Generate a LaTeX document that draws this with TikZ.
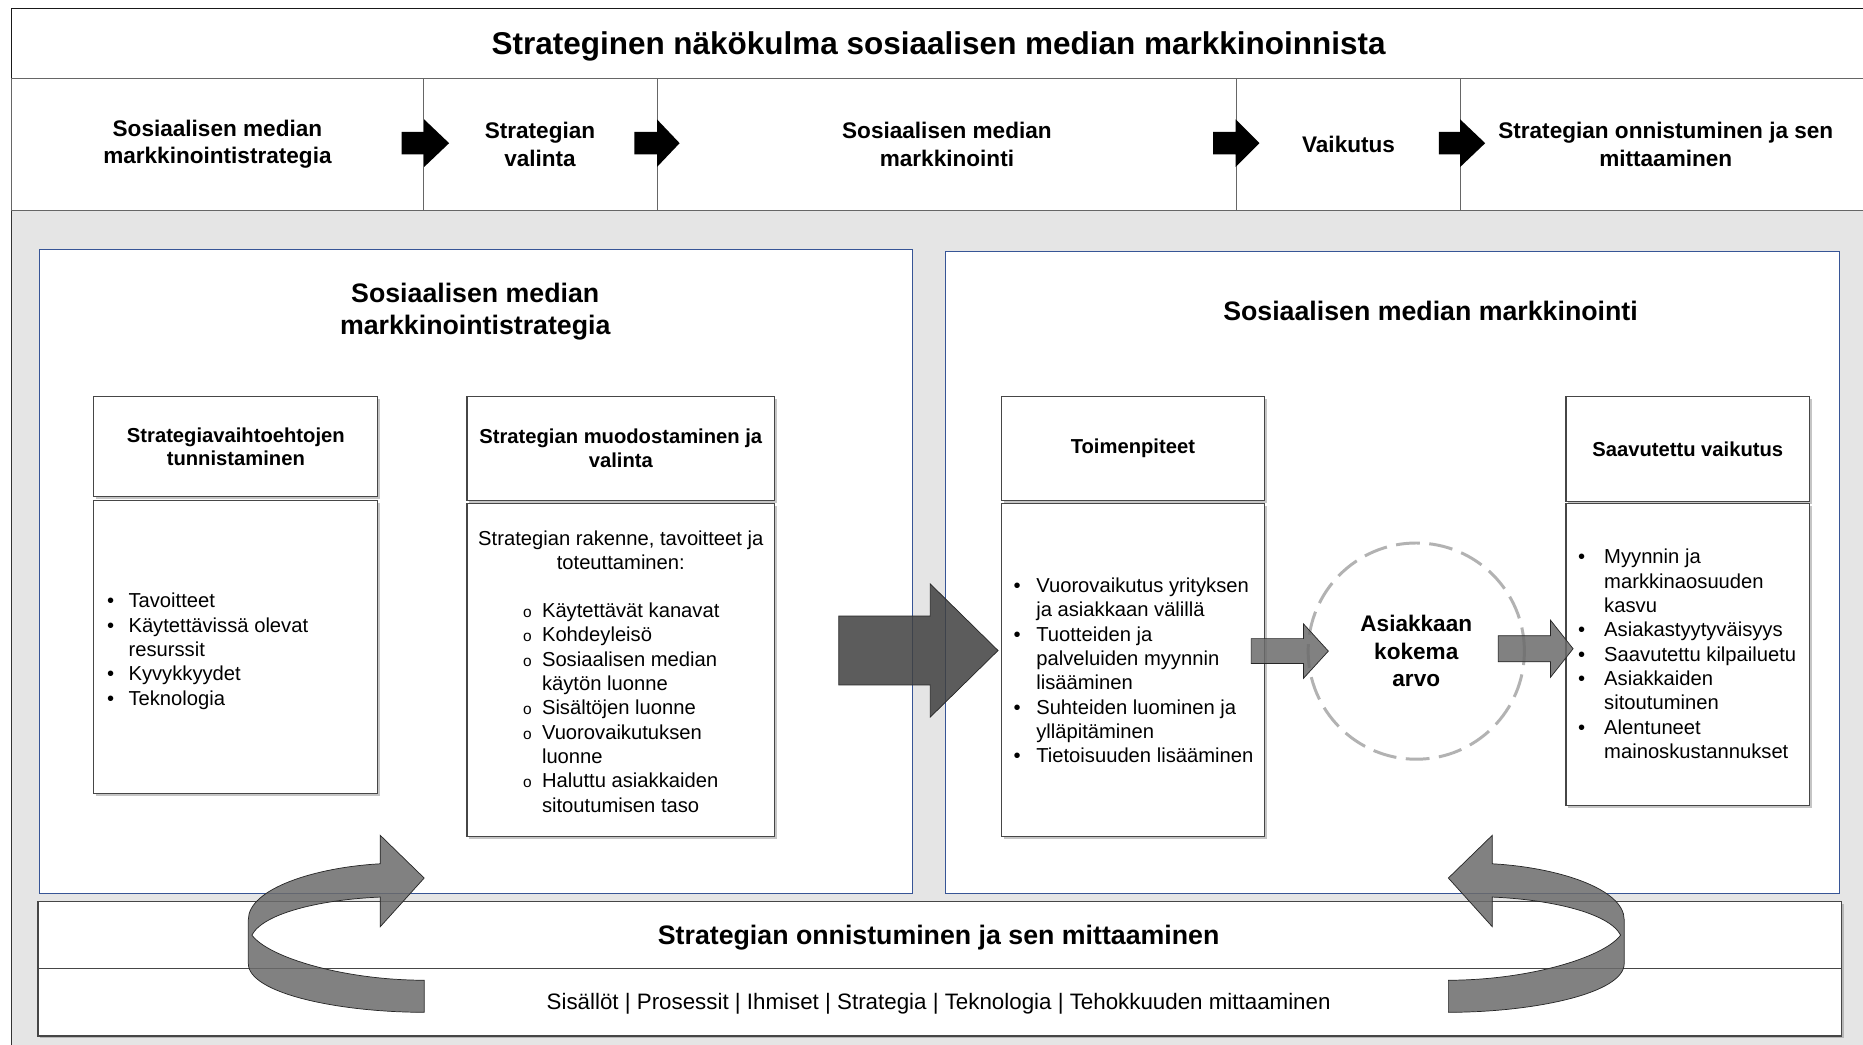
\documentclass[tikz,border=0pt]{standalone}
\usepackage{fontspec}
\setmainfont{Liberation Sans}
\usetikzlibrary{shadows}

\definecolor{panelblue}{RGB}{55,85,150}
\definecolor{boxgray}{RGB}{70,70,70}

% filled block arrow: [style]{shaft start}{centre y}{head base}{tip}{shaft half}{head half}
\newcommand{\blockarrow}[7][]{%
  \draw[#1] (#2,#3-#6) -- (#4,#3-#6) -- (#4,#3-#7) -- (#5,#3)
    -- (#4,#3+#7) -- (#4,#3+#6) -- (#2,#3+#6) -- cycle;}
\newcommand{\lbul}[1]{\makebox[#1][l]{\textbullet}}
\newcommand{\obul}{\makebox[16pt][l]{\fontsize{13}{13}\selectfont o}}

\begin{document}
\begin{tikzpicture}[
    x=1pt, y=-1pt,
    every node/.style={inner sep=0pt},
    stepbox/.style={draw=black!60, line width=0.8pt, fill=white, minimum height=111,
      align=center, font=\fontsize{19}{23}\selectfont\bfseries},
    panel/.style={draw=panelblue, line width=0.8pt, fill=white},
    paneltitle/.style={align=center, font=\fontsize{22.5}{27}\selectfont\bfseries},
    headbox/.style={draw=boxgray, line width=1pt, fill=white, align=center,
      font=\fontsize{17}{20}\selectfont\bfseries,
      drop shadow={shadow xshift=2pt, shadow yshift=-2pt, opacity=0.45}},
    bodybox/.style={headbox, font=\fontsize{17}{20.5}\selectfont},
    listtext/.style={anchor=north west, align=left, font=\fontsize{17}{20.5}\selectfont},
    rowarrow/.style={fill=black, draw=none},
    bigarrow/.style={fill=black!75, fill opacity=0.85, draw=black!85, line width=0.6pt},
    midarrow/.style={fill=black!58, fill opacity=0.85, draw=black!85, line width=0.6pt},
    turnarrow/.pic={
      \draw[midarrow] (357,852) .. controls (285,852) and (209,836) .. (209,811)
        -- (209,774) .. controls (209,748) and (265,730) .. (320,727)
        -- (320,703) -- (357,739) -- (320,780) -- (320,755)
        .. controls (272,757) and (222,768) .. (212,787)
        .. controls (226,806) and (290,825) .. (357,825) -- cycle;
    }
  ]
  \useasboundingbox (0,0) rectangle (1568,879);
  \fill[white] (0,0) rectangle (1568,879);

  % grey back area
  \draw[fill=black!10, draw=black!80, line width=0.8pt] (10,177) rectangle (1590,900);

  % top title and the row of steps
  \node[draw=black!90, line width=1pt, fill=white, minimum width=1570, minimum height=59]
    (titlebox) at (795,36.5) {};
  \node[font=\fontsize{26.5}{30}\selectfont\bfseries] (title) at (790,39)
    {Strateginen näkökulma sosiaalisen median markkinoinnista};
  \node[stepbox, minimum width=346] (s1) at (183,121.5) {Sosiaalisen median\\markkinointistrategia};
  \node[stepbox, minimum width=197] (s2) at (454.5,121.5) {Strategian\\valinta};
  \node[stepbox, minimum width=488] (s3) at (797,121.5) {Sosiaalisen median\\markkinointi};
  \node[stepbox, minimum width=188] (s4) at (1135,121.5) {Vaikutus};
  \node[stepbox, minimum width=346] (s5) at (1402,121.5) {Strategian onnistuminen ja sen\\mittaaminen};
  \blockarrow[rowarrow]{338}{120.5}{357}{378}{9.5}{20}
  \blockarrow[rowarrow]{534}{120.5}{553}{572}{9.5}{20}
  \blockarrow[rowarrow]{1021}{120.5}{1040}{1060}{9.5}{20}
  \blockarrow[rowarrow]{1211}{120.5}{1229}{1250}{9.5}{20}

  % left panel: strategy
  \node[panel, minimum width=735, minimum height=542] (strat) at (400.5,481) {};
  \node[paneltitle] (strattitle) at (400,262) {Sosiaalisen median\\markkinointistrategia};
  \node[headbox, minimum width=239, minimum height=84] (altH) at (198.5,376)
    {Strategiavaihtoehtojen\\tunnistaminen};
  \node[bodybox, minimum width=239, minimum height=247] (altB) at (198.5,544.5) {};
  \node[listtext] (altL) at (90,497)
    {\strut\lbul{18pt}Tavoitteet\\
     \lbul{18pt}Käytettävissä olevat\\
     \hspace*{18pt}resurssit\\
     \lbul{18pt}Kyvykkyydet\\
     \lbul{18pt}Teknologia};
  \node[headbox, minimum width=259, minimum height=87] (formH) at (522.5,377.5)
    {Strategian muodostaminen ja\\valinta};
  \node[bodybox, minimum width=259, minimum height=280] (formB) at (522.5,564) {};
  \node[align=center, font=\fontsize{17}{20}\selectfont] (formI) at (522.5,463)
    {Strategian rakenne, tavoitteet ja\\toteuttaminen:};
  \node[listtext] (formL) at (440,505)
    {\strut\obul Käytettävät kanavat\\
     \obul Kohdeyleisö\\
     \obul Sosiaalisen median\\
     \hspace*{16pt}käytön luonne\\
     \obul Sisältöjen luonne\\
     \obul Vuorovaikutuksen\\
     \hspace*{16pt}luonne\\
     \obul Haluttu asiakkaiden\\
     \hspace*{16pt}sitoutumisen taso};

  % right panel: marketing
  \node[panel, minimum width=752, minimum height=540] (mark) at (1172,482) {};
  \node[paneltitle] (marktitle) at (1204,262) {Sosiaalisen median markkinointi};
  \node[headbox, minimum width=221, minimum height=87] (actH) at (953.5,377.5) {Toimenpiteet};
  \node[bodybox, minimum width=221, minimum height=280] (actB) at (953.5,564) {};
  \node[listtext] (actL) at (853,484)
    {\strut\lbul{19pt}Vuorovaikutus yrityksen\\
     \hspace*{19pt}ja asiakkaan välillä\\
     \lbul{19pt}Tuotteiden ja\\
     \hspace*{19pt}palveluiden myynnin\\
     \hspace*{19pt}lisääminen\\
     \lbul{19pt}Suhteiden luominen ja\\
     \hspace*{19pt}ylläpitäminen\\
     \lbul{19pt}Tietoisuuden lisääminen};
  \node[headbox, minimum width=205, minimum height=88] (effH) at (1420.5,378) {Saavutettu vaikutus};
  \node[bodybox, minimum width=205, minimum height=254] (effB) at (1420.5,551) {};
  \node[listtext] (effL) at (1328,460)
    {\strut\lbul{22pt}Myynnin ja\\
     \hspace*{22pt}markkinaosuuden\\
     \hspace*{22pt}kasvu\\
     \lbul{22pt}Asiakastyytyväisyys\\
     \lbul{22pt}Saavutettu kilpailuetu\\
     \lbul{22pt}Asiakkaiden\\
     \hspace*{22pt}sitoutuminen\\
     \lbul{22pt}Alentuneet\\
     \hspace*{22pt}mainoskustannukset};
  \node[circle, draw=black!30, line width=2.5pt, dash pattern=on 20pt off 8pt, fill=white,
    minimum size=182, align=center, font=\fontsize{19}{23}\selectfont\bfseries]
    (value) at (1192,548) {Asiakkaan\\kokema\\arvo};

  % arrows between the parts
  \blockarrow[bigarrow]{706}{547.5}{783}{840}{29}{56}
  \blockarrow[midarrow]{1053}{548}{1097}{1118}{10.5}{23}
  \blockarrow[midarrow]{1261}{546}{1305}{1324}{11}{24}

  % measuring bar
  \node[headbox, minimum width=1518, minimum height=56] (meas) at (791,787) {};
  \node[bodybox, minimum width=1518, minimum height=57] (measB) at (791,843.5) {};
  \node[font=\fontsize{22.5}{26}\selectfont\bfseries] (meastitle) at (790,789.5)
    {Strategian onnistuminen ja sen mittaaminen};
  \node[font=\fontsize{18.8}{22}\selectfont] (measlist) at (790,845)
    {Sisällöt | Prosessit | Ihmiset | Strategia | Teknologia | Tehokkuuden mittaaminen};
  \pic at (0,0) {turnarrow};
  \pic[xscale=-1] at (1576,0) {turnarrow};
\end{tikzpicture}
\end{document}
